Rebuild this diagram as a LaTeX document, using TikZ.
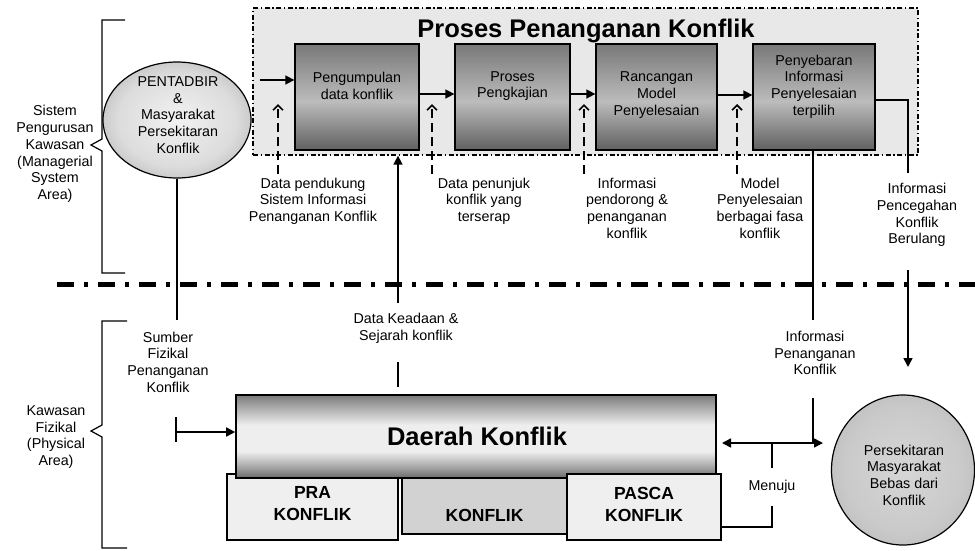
\documentclass[tikz,border=0pt]{standalone}
\usepackage{fontspec}
\setmainfont{Liberation Sans}
\usetikzlibrary{arrows.meta,shapes.geometric,calc}
\definecolor{procTop}{HTML}{787878}
\definecolor{procMid}{HTML}{BCBCBC}
\definecolor{procBot}{HTML}{606060}
\definecolor{dkTop}{HTML}{7A7A7A}
\definecolor{dkMidA}{HTML}{A8A8A8}
\definecolor{dkLight}{HTML}{EEEEEE}
\definecolor{dkMidB}{HTML}{A0A0A0}
\definecolor{dkBot}{HTML}{6A6A6A}
\definecolor{contFill}{HTML}{E8E8E8}
\definecolor{phaseLight}{HTML}{EFEFEF}
\definecolor{phaseDark}{HTML}{D2D2D2}
\definecolor{circIn}{HTML}{F2F2F2}
\definecolor{circMid}{HTML}{DCDCDC}
\definecolor{circOut}{HTML}{B4B4B4}
\definecolor{goalIn}{HTML}{D6D6D6}
\definecolor{goalMid}{HTML}{CACACA}
\definecolor{goalOut}{HTML}{BABABA}
\pgfdeclareverticalshading{procshade}{100bp}{color(0bp)=(procBot); color(25bp)=(procBot); color(48bp)=(procMid); color(75bp)=(procTop); color(100bp)=(procTop)}
\pgfdeclareverticalshading{dkshade}{100bp}{color(0bp)=(dkBot); color(25bp)=(dkBot); color(31bp)=(dkMidB); color(41bp)=(dkLight); color(57bp)=(dkLight); color(68bp)=(dkMidA); color(75bp)=(dkTop); color(100bp)=(dkTop)}
\pgfdeclareradialshading{ellshade}{\pgfpoint{0bp}{0bp}}{color(0bp)=(circIn); color(20bp)=(circMid); color(32bp)=(circOut); color(50bp)=(circOut)}
\pgfdeclareradialshading{goalshade}{\pgfpoint{0bp}{0bp}}{color(0bp)=(goalIn); color(20bp)=(goalMid); color(32bp)=(goalOut); color(50bp)=(goalOut)}
\begin{document}
\begin{tikzpicture}[x=1pt,y=-1pt,
  lbl/.style={font=\fontsize{14.3}{16.7}\selectfont, align=center, inner sep=0pt},
  pbox/.style={draw, line width=1.3pt, shading=procshade, minimum height=106pt, inner sep=0pt},
  arr/.style={line width=1.6pt, -{Triangle[length=9pt,width=9pt]}},
  darr/.style={line width=1.6pt, dash pattern=on 9pt off 5pt, -{Straight Barb[length=5pt,width=10pt]}},
  wire/.style={line width=1.4pt},
  phase/.style={draw, line width=1.2pt, inner sep=0pt},
  phasetxt/.style={font=\bfseries\fontsize{17.5}{22}\selectfont, align=center, inner sep=0pt}
]
\useasboundingbox (0,0) rectangle (975,550);

% braces
\draw[line width=1.2pt] (125,20) -- (102,20) -- (102,139) -- (91,145) -- (102,151) -- (102,273) -- (125,273);
\draw[line width=1.2pt] (127,321) -- (102,321) -- (102,425) -- (91,431) -- (102,437) -- (102,548) -- (127,548);
\node[lbl] (sysl) at (55,154) {Sistem\\Pengurusan\\Kawasan\\(Managerial\\System\\Area)};
\node[lbl] (phyl) at (56,437) {Kawasan\\Fizikal\\(Physical\\Area)};

% separator
\draw[line width=5pt, dash pattern=on 17pt off 10pt on 4pt off 10pt] (57,284) -- (975,284);

% process container
\node[draw, fill=contFill, line width=1.3pt, dash pattern=on 5pt off 2.5pt on 1.5pt off 2.5pt,
      minimum width=665pt, minimum height=147pt, inner sep=0pt] (cont) at (585.5,81.5) {};
\node[inner sep=0pt, font=\bfseries\fontsize{25.5}{29}\selectfont] (title) at (586,31) {Proses Penanganan Konflik};

\node[pbox, minimum width=124pt] (b1) at (357,97) {};
\node[pbox, minimum width=115pt] (b2) at (512.5,97) {};
\node[pbox, minimum width=121pt] (b3) at (656.5,97) {};
\node[pbox, minimum width=122pt] (b4) at (814,97) {};
\node[lbl] (b1t) at (357,86) {Pengumpulan\\data konflik};
\node[lbl] (b2t) at (512.5,86) {Proses\\Pengkajian};
\node[lbl] (b3t) at (656.5,95) {Rancangan\\Model\\Penyelesaian};
\node[lbl] (b4t) at (814,86.5) {Penyebaran\\Informasi\\Penyelesaian\\terpilih};

% actor ellipse
\node[ellipse, draw, line width=1.2pt, minimum width=148pt, minimum height=116pt, inner sep=0pt,
      shading=ellshade] (ell) at (177,120) {};
\node[lbl] (ellt) at (178,115) {PENTADBIR\\\&\\Masyarakat\\Persekitaran\\Konflik};

% goal circle
\node[ellipse, draw, line width=1.2pt, minimum width=143pt, minimum height=150pt, inner sep=0pt,
      shading=goalshade] (goal) at (903,470) {};
\node[lbl] (goalt) at (904,475) {Persekitaran\\Masyarakat\\Bebas dari\\Konflik};

% phase boxes and Daerah Konflik
\node[phase, fill=phaseLight, minimum width=171pt, minimum height=66pt] (pra) at (312.5,507) {};
\node[phase, fill=phaseDark, minimum width=165pt, minimum height=60pt] (mid) at (484.5,504) {};
\node[draw, line width=1.6pt, shading=dkshade, minimum width=480pt, minimum height=83pt, inner sep=0pt] (dk) at (476,436.5) {};
\node[phase, fill=phaseLight, minimum width=154pt, minimum height=66pt] (pasca) at (644,507) {};
\node[inner sep=0pt, font=\bfseries\fontsize{25.5}{29}\selectfont] (dkt) at (477,436) {Daerah Konflik};
\node[phasetxt] (prat) at (312.5,504) {PRA\\KONFLIK};
\node[phasetxt] (midt) at (484.5,515) {KONFLIK};
\node[phasetxt] (pascat) at (644,504) {PASCA\\KONFLIK};

% process flow arrows
\coordinate (s0) at (260,80);
\draw[arr] (s0) -- (s0 -| b1.west);
\draw[arr] ([yshift=3pt]b1.east) -- ([yshift=3pt]b2.west);
\draw[arr] ([yshift=3pt]b2.east) -- ([yshift=3pt]b3.west);
\draw[arr] ([yshift=2pt]b3.east) -- ([yshift=2pt]b4.west);

% dashed input arrows
\foreach \n/\xx in {1/278,2/432,3/584,4/737}{
  \coordinate (d\n) at (\xx,174);
  \draw[darr] (d\n) -- ++(0,-70);
}
\node[lbl] (l1) at (313,201) {Data pendukung\\Sistem Informasi\\Penanganan Konflik};
\node[lbl] (l2) at (484,201) {Data penunjuk\\konflik yang\\terserap};
\node[lbl] (l3) at (627,208) {Informasi\\pendorong \&\\penanganan\\konflik};
\node[lbl] (l4) at (760,208) {Model\\Penyelesaian\\berbagai fasa\\konflik};

% Data Keadaan arrow
\coordinate (u1) at (398,303);
\draw[arr] (u1) -- (u1 |- cont.south);
\node[lbl] (l5) at (406,328) {Data Keadaan \&\\Sejarah konflik};
\coordinate (u2) at (398,362);
\coordinate (u3) at (398,387);
\draw[wire] (u2) -- (u3);

% left physical source
\coordinate (e1) at (177,320);
\draw[wire] (ell.south) -- (e1);
\node[lbl] (l6) at (168,362) {Sumber\\Fizikal\\Penanganan\\Konflik};
\coordinate (k1) at (176,417);
\coordinate (k2) at (176,442);
\coordinate (k3) at (176,432);
\draw[wire] (k1) -- (k2);
\draw[arr] (k3) -- (k3 -| dk.west);

% prevention info
\coordinate (p1) at (908,173);
\draw[wire] ([yshift=-3pt]b4.east) -| (p1);
\node[lbl] (l7) at (917,215) {Informasi\\Pencegahan\\Konflik\\Berulang};
\coordinate (p2) at (908,270);
\coordinate (p3) at (908,367);
\draw[arr] (p2) -- (p3);

% handling info
\coordinate (q1) at (813,320);
\draw[wire] (q1 |- b4.south) -- (q1);
\node[lbl] (l8) at (815,353) {Informasi\\Penanganan\\Konflik};
\coordinate (q2) at (813,398);
\coordinate (q3) at (813,443);
\draw[wire] (q2) -- (q3);
\coordinate (h1) at (722,443);
\coordinate (h2) at (823,443);
\draw[line width=1.6pt, {Triangle[length=9pt,width=9pt]}-{Triangle[length=9pt,width=9pt]}] (h1) -- (h2);

% Menuju
\coordinate (m1) at (772,506);
\draw[wire] ([yshift=-20pt]pasca.east) -| (m1);
\node[lbl] (l9) at (772,487) {Menuju};
\coordinate (m2) at (772,468);
\draw[wire] (m2) -- (m2 |- h1);
\end{tikzpicture}
\end{document}
